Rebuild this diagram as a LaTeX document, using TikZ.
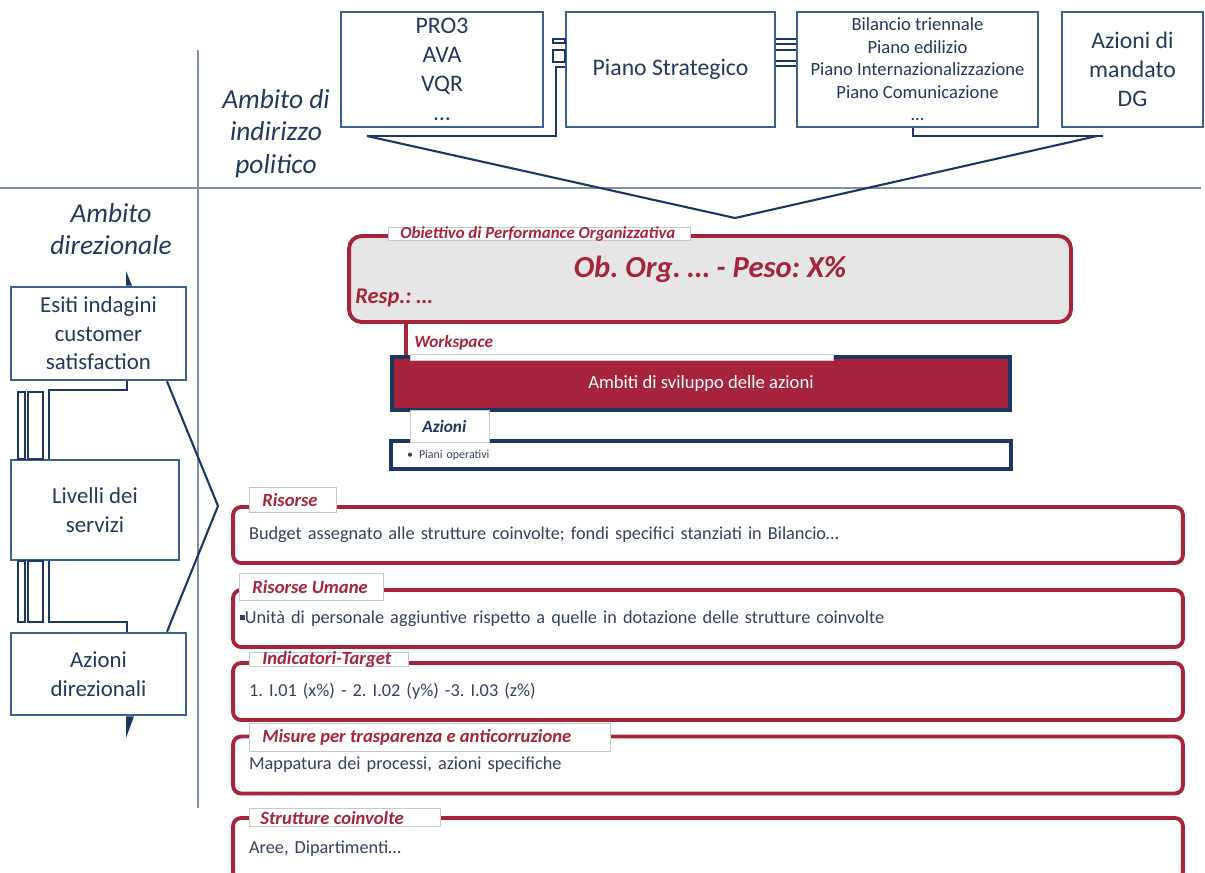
\documentclass[tikz,border=0pt]{standalone}
\usepackage{fontspec}
\setmainfont{Carlito}
\usetikzlibrary{positioning,calc}
\definecolor{boxblue}{RGB}{62,96,140}
\definecolor{linkblue}{RGB}{30,55,98}
\definecolor{navytxt}{RGB}{36,56,92}
\definecolor{sepgray}{RGB}{128,142,165}
\definecolor{obred}{RGB}{166,36,60}
\definecolor{obfill}{RGB}{230,230,230}
\definecolor{tabgray}{RGB}{200,200,200}
\definecolor{bodytxt}{RGB}{52,66,90}
\frenchspacing
\tikzset{
 topbox/.style={draw=boxblue,line width=1.5pt,fill=white,align=center,inner sep=0pt,
             text=navytxt,font=\fontsize{13.5}{16.5}\selectfont},
 smalltop/.style={topbox,font=\fontsize{10.6}{12.8}\selectfont},
 leftbox/.style={topbox,font=\fontsize{13}{16.2}\selectfont},
 ambito/.style={align=center,text=navytxt,font=\itshape\fontsize{15.6}{18.5}\selectfont},
 link/.style={draw=linkblue,line width=1.2pt},
 sep/.style={draw=sepgray,line width=0.8pt},
 redbox/.style={draw=obred,line width=2.2pt,rounded corners=0.16cm,fill=white,
             minimum width=19cm,inner xsep=0.32cm,text width=18.36cm,align=left,
             text=bodytxt,font=\fontsize{10.4}{12}\selectfont},
 tabbox/.style={draw=tabgray,line width=0.6pt,fill=white,inner sep=0pt,anchor=north west},
 tablabel/.style={inner sep=0pt,text=obred,font=\bfseries\itshape\fontsize{10.6}{12}\selectfont},
 navybox/.style={draw=linkblue,line width=1.8pt,inner sep=0pt}
}

\begin{document}
\begin{tikzpicture}[x=0.02cm,y=-0.02cm]
\useasboundingbox (0,0) rectangle (1205,873);

\draw[sep] (0,188) -- (1201,188);
\draw[sep] (198,50) -- (198,808);

\node[topbox,minimum width=4.04cm,minimum height=2.3cm] (pro) at (442,69.5)
  {PRO3\\AVA\\VQR\\…};
\node[topbox,minimum width=4.18cm,minimum height=2.3cm] (strat) at (670.5,69.5)
  {Piano Strategico};
\node[smalltop,minimum width=4.82cm,minimum height=2.3cm] (bil) at (917.5,69.5)
  {Bilancio triennale\\Piano edilizio\\Piano Internazionalizzazione\\Piano Comunicazione\\…};
\node[topbox,minimum width=2.82cm,minimum height=2.3cm] (dg) at (1132.5,69.5)
  {Azioni di\\mandato\\DG};

\coordinate (tip) at (735,218);
\draw[link] (367,136) -- (tip) -- (1097,136);
\draw[link] (553,39) rectangle (strat.west |- 0,43);
\draw[link] (553,50) rectangle (strat.west |- 0,62);
\draw[link] (strat.west |- 0,67) -| (556,136) -- (367,136);
\foreach \yy in {39,44,50,61,66}
  \draw[link,line width=1pt] (strat.east |- 0,\yy) -- (bil.west |- 0,\yy);
\draw[link] (bil.south -| 913,0) |- (1103,136);

\node[ambito] (polit) at (276,133.5) {Ambito di\\indirizzo\\politico};
\node[ambito] (direz) at (111,229) {Ambito\\direzionale};

\node[leftbox,minimum width=3.5cm,minimum height=1.86cm] (esiti) at (98.5,333.5)
  {Esiti indagini\\customer\\satisfaction};
\node[leftbox,minimum width=3.36cm,minimum height=2cm] (livelli) at (95,510)
  {Livelli dei\\servizi};
\node[leftbox,minimum width=3.5cm,minimum height=1.64cm] (azdir) at (98.5,674)
  {Azioni\\direzionali};

\fill[linkblue] (126,271) -- (esiti.north -| 126,0) -- (esiti.north -| 132,0) -- cycle;
\fill[linkblue] (126,738) -- (azdir.south -| 126,0) -- (azdir.south -| 134,0) -- cycle;
\draw[link] (esiti.south -| 127,0) -- (127,390) -- (49,390) -- (livelli.north -| 49,0);
\draw[link] (18,392) rectangle (livelli.north -| 25,0);
\draw[link] (28,392) rectangle (livelli.north -| 43,0);
\draw[link] (livelli.south -| 49,0) -- (49,622) -- (127,622) -- (azdir.north -| 127,0);
\draw[link] (livelli.south -| 18,0) rectangle (25,622);
\draw[link] (livelli.south -| 28,0) rectangle (43,622);
\draw[link] (esiti.south -| 167,0) -- (218,506) -- (azdir.north -| 167,0);

\node[draw=obred,line width=2.2pt,rounded corners=0.25cm,fill=obfill,
  minimum width=14.44cm,minimum height=1.72cm] (obj) at (710,279) {};
\node[tabbox,minimum width=6.04cm,minimum height=0.26cm] (tobj) at (388,227) {};
\node[tablabel,font=\bfseries\itshape\fontsize{9.6}{10}\selectfont,right=0.24cm of tobj.west]
  (lobj) {Obiettivo di Performance Organizzativa};
\node[text=obred,font=\bfseries\itshape\fontsize{17.4}{18}\selectfont] (obt) at (710,269)
  {Ob. Org. … - Peso: X\%};
\node[tablabel,font=\bfseries\itshape\fontsize{12.8}{14}\selectfont,anchor=west] (resp)
  at (355,298) {Resp.: …};

\node[navybox,fill=obred,minimum width=12.36cm,minimum height=1.06cm,text=white,
  font=\fontsize{10.6}{12}\selectfont] (amb) at (701,383.5) {Ambiti di sviluppo delle azioni};
\coordinate (wsx) at (406,0);
\draw[obred,line width=1.8pt] (obj.south -| wsx) -- (amb.north -| wsx);
\node[tabbox,minimum width=8.46cm,minimum height=0.12cm] (wsbar) at (410,354) {};
\node[tablabel,font=\bfseries\itshape\fontsize{9.8}{11}\selectfont,anchor=west] (ws)
  at (414,343) {Workspace};

\node[navybox,fill=white,minimum width=12.4cm,minimum height=0.56cm,inner xsep=0.22cm,
  text width=11.96cm,align=left,text=bodytxt,font=\fontsize{6.8}{8}\selectfont]
  (piani) at (701,455) {\hspace*{0.1cm}•\hspace{0.12cm}Piani operativi};
\node[tabbox,minimum width=1.58cm,minimum height=0.64cm] (taz) at (410,410) {};
\node[tablabel,font=\bfseries\itshape\fontsize{9.8}{11}\selectfont,text=linkblue,
  right=0.24cm of taz.west] (laz) {Azioni};

\node[redbox,minimum height=1.12cm] (ris) at (708,535)
  {Budget assegnato alle strutture coinvolte; fondi specifici stanziati in Bilancio…};
\node[redbox,minimum height=1.14cm] (hum) at (708,618.5)
  {\hspace*{-0.18cm}\raisebox{0.35ex}{\rule{0.55ex}{0.55ex}}Unità di personale aggiuntive rispetto a quelle in dotazione delle strutture coinvolte};
\node[redbox,minimum height=1.14cm] (ind) at (708,691.5)
  {1. I.01 (x\%) - 2. I.02 (y\%) -3. I.03 (z\%)};
\node[redbox,minimum height=1.14cm] (mis) at (708,765)
  {Mappatura dei processi, azioni specifiche};
\node[redbox,minimum height=1.24cm] (str) at (708,849)
  {Aree, Dipartimenti…};

\node[tabbox,minimum width=1.74cm,minimum height=0.5cm] (tris) at (249,487) {};
\node[tablabel,right=0.26cm of tris.west] (lris) {Risorse};
\node[tabbox,minimum width=2.88cm,minimum height=0.54cm] (thum) at (239,573) {};
\node[tablabel,right=0.26cm of thum.west] (lhum) {Risorse Umane};
\node[tabbox,minimum width=3.18cm,minimum height=0.28cm] (tind) at (249,652) {};
\node[tablabel,right=0.26cm of tind.west] (lind) {Indicatori-Target};
\node[tabbox,minimum width=7.22cm,minimum height=0.56cm] (tmis) at (249,723) {};
\node[tablabel,right=0.26cm of tmis.west] (lmis) {Misure per trasparenza e anticorruzione};
\node[tabbox,minimum width=3.82cm,minimum height=0.36cm] (tstr) at (249,808) {};
\node[tablabel,right=0.22cm of tstr.west] (lstr) {Strutture coinvolte};
\end{tikzpicture}
\end{document}
